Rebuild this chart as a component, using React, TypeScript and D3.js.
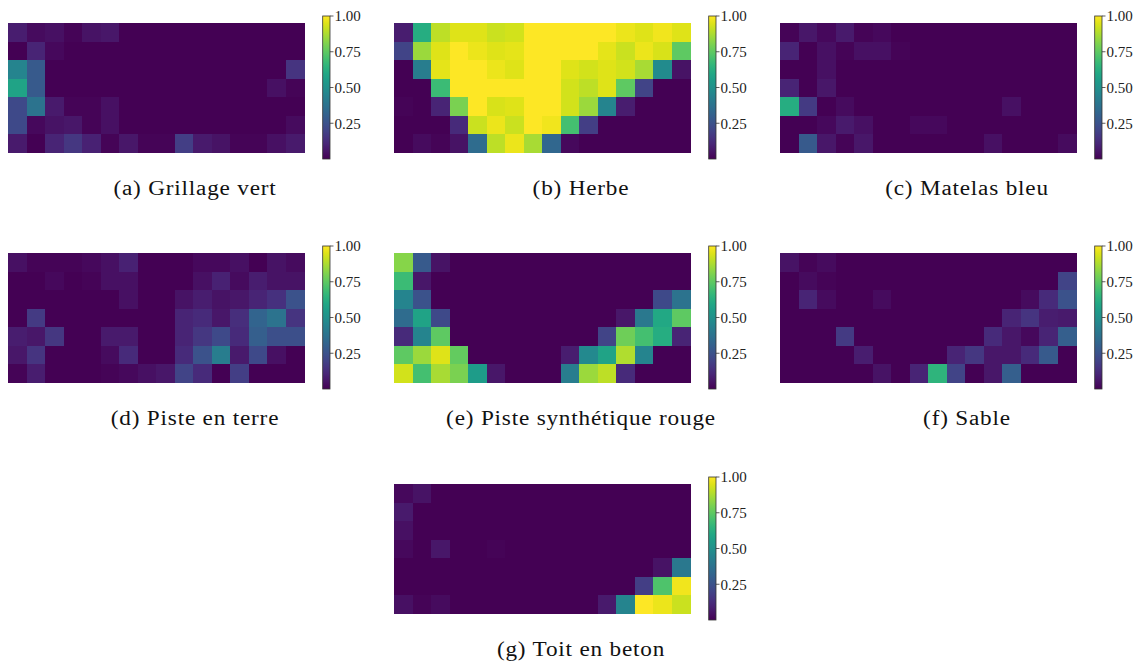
import React from "react";
import * as d3 from "d3";

const nCols = 16;
const nRows = 7;

const grillageVert = [
  [0.08, 0.03, 0.04, 0.01, 0.05, 0.06, 0, 0, 0, 0, 0, 0, 0, 0, 0, 0],
  [0.0, 0.1, 0.02, 0, 0, 0, 0, 0, 0, 0, 0, 0, 0, 0, 0, 0],
  [0.45, 0.28, 0, 0, 0, 0, 0, 0, 0, 0, 0, 0, 0, 0, 0, 0.15],
  [0.58, 0.28, 0, 0, 0, 0, 0, 0, 0, 0, 0, 0, 0, 0, 0.04, 0.01],
  [0.22, 0.38, 0.07, 0.01, 0.01, 0.04, 0, 0, 0, 0, 0, 0, 0, 0, 0, 0],
  [0.22, 0.02, 0.05, 0.06, 0.01, 0.04, 0, 0, 0, 0, 0, 0, 0, 0, 0, 0.03],
  [0.07, 0.0, 0.1, 0.16, 0.09, 0.01, 0.06, 0.01, 0.01, 0.18, 0.07, 0.05, 0.01, 0.01, 0.04, 0.07],
];

const herbe = [
  [0.08, 0.62, 0.9, 0.95, 0.95, 0.92, 0.93, 1.0, 1.0, 1.0, 1.0, 1.0, 0.97, 0.95, 0.98, 0.95],
  [0.2, 0.85, 0.95, 1.0, 0.97, 0.95, 0.96, 1.0, 1.0, 1.0, 1.0, 0.96, 0.92, 0.97, 0.94, 0.75],
  [0.0, 0.42, 0.96, 1.0, 1.0, 0.97, 0.95, 1.0, 1.0, 0.95, 0.93, 0.95, 0.93, 0.87, 0.48, 0.05],
  [0.0, 0.0, 0.68, 1.0, 1.0, 1.0, 1.0, 1.0, 1.0, 0.93, 0.9, 0.95, 0.75, 0.2, 0.0, 0.0],
  [0.01, 0.0, 0.1, 0.8, 1.0, 0.94, 0.95, 1.0, 1.0, 0.93, 0.85, 0.45, 0.08, 0.0, 0.0, 0.0],
  [0.0, 0.0, 0.0, 0.12, 0.92, 0.97, 0.92, 1.0, 0.98, 0.7, 0.18, 0.0, 0.0, 0.0, 0.0, 0.0],
  [0.0, 0.03, 0.01, 0.05, 0.35, 0.9, 0.97, 0.87, 0.33, 0.02, 0.0, 0.0, 0.0, 0.0, 0.0, 0.0],
];

const matelasBleu = [
  [0.01, 0.06, 0.02, 0.07, 0.01, 0.02, 0, 0, 0, 0, 0, 0, 0, 0, 0, 0],
  [0.1, 0.0, 0.04, 0.01, 0.04, 0.04, 0.01, 0, 0, 0, 0, 0, 0, 0, 0, 0],
  [0.0, 0.0, 0.04, 0, 0, 0, 0, 0, 0, 0, 0, 0, 0, 0, 0, 0],
  [0.1, 0.0, 0.06, 0, 0, 0, 0, 0, 0, 0, 0, 0, 0, 0, 0, 0],
  [0.62, 0.17, 0.0, 0.03, 0, 0, 0, 0, 0, 0, 0, 0, 0.04, 0, 0, 0],
  [0.0, 0.0, 0.02, 0.07, 0.04, 0, 0, 0.02, 0.02, 0, 0, 0, 0, 0, 0, 0],
  [0.0, 0.28, 0.06, 0.01, 0.06, 0, 0, 0, 0, 0, 0, 0.04, 0, 0, 0, 0.03],
];

const pisteEnTerre = [
  [0.04, 0.01, 0.01, 0.01, 0.02, 0.04, 0.09, 0, 0, 0, 0.02, 0.02, 0.04, 0.0, 0.05, 0.03],
  [0, 0, 0.02, 0, 0.01, 0.04, 0.04, 0, 0, 0, 0.04, 0.09, 0.03, 0.08, 0.05, 0.05],
  [0, 0, 0, 0, 0, 0, 0.04, 0, 0, 0.05, 0.08, 0.05, 0.06, 0.1, 0.14, 0.25],
  [0, 0.17, 0, 0, 0, 0, 0, 0, 0, 0.1, 0.12, 0.06, 0.13, 0.32, 0.38, 0.15],
  [0.08, 0.06, 0.16, 0, 0, 0.07, 0.07, 0, 0, 0.1, 0.16, 0.22, 0.12, 0.3, 0.24, 0.24],
  [0.06, 0.15, 0, 0, 0, 0.03, 0.12, 0, 0, 0.12, 0.25, 0.42, 0.07, 0.22, 0.04, 0],
  [0.01, 0.08, 0, 0, 0, 0.01, 0.02, 0.04, 0.06, 0.2, 0.12, 0.0, 0.18, 0, 0, 0],
];

const pisteSynthetique = [
  [0.82, 0.28, 0.05, 0, 0, 0, 0, 0, 0, 0, 0, 0, 0, 0, 0, 0],
  [0.68, 0.06, 0, 0, 0, 0, 0, 0, 0, 0, 0, 0, 0, 0, 0, 0],
  [0.45, 0.25, 0, 0, 0, 0, 0, 0, 0, 0, 0, 0, 0, 0, 0.22, 0.38],
  [0.35, 0.58, 0.22, 0, 0, 0, 0, 0, 0, 0, 0, 0, 0.06, 0.4, 0.6, 0.75],
  [0.12, 0.45, 0.75, 0, 0, 0, 0, 0, 0, 0, 0, 0.2, 0.78, 0.7, 0.62, 0.1],
  [0.75, 0.85, 0.95, 0.76, 0, 0, 0, 0, 0, 0.08, 0.47, 0.58, 0.88, 0.45, 0, 0],
  [0.93, 0.7, 0.87, 0.8, 0.55, 0.06, 0, 0, 0, 0.42, 0.85, 0.9, 0.12, 0, 0, 0],
];

const sable = [
  [0.05, 0.01, 0.03, 0, 0, 0, 0, 0, 0, 0, 0, 0, 0, 0, 0, 0],
  [0, 0.03, 0.01, 0, 0, 0, 0, 0, 0, 0, 0, 0, 0, 0, 0, 0.2],
  [0, 0.1, 0.03, 0, 0, 0.03, 0, 0, 0, 0, 0, 0, 0, 0.03, 0.12, 0.25],
  [0, 0, 0, 0, 0, 0, 0, 0, 0, 0, 0, 0, 0.1, 0.15, 0.08, 0.07],
  [0, 0, 0, 0.17, 0, 0, 0, 0, 0, 0, 0, 0.12, 0.06, 0.02, 0.1, 0.3],
  [0, 0, 0, 0, 0.08, 0, 0, 0, 0, 0.1, 0.16, 0.06, 0.06, 0.12, 0.28, 0],
  [0, 0, 0, 0, 0, 0.05, 0, 0.1, 0.65, 0.2, 0, 0.06, 0.3, 0, 0, 0],
];

const toitEnBeton = [
  [0.02, 0.05, 0, 0, 0, 0, 0, 0, 0, 0, 0, 0, 0, 0, 0, 0],
  [0.07, 0, 0, 0, 0, 0, 0, 0, 0, 0, 0, 0, 0, 0, 0, 0],
  [0.04, 0, 0, 0, 0, 0, 0, 0, 0, 0, 0, 0, 0, 0, 0, 0],
  [0.02, 0, 0.06, 0, 0, 0.01, 0, 0, 0, 0, 0, 0, 0, 0, 0, 0],
  [0, 0, 0, 0, 0, 0, 0, 0, 0, 0, 0, 0, 0, 0, 0.05, 0.4],
  [0, 0, 0, 0, 0, 0, 0, 0, 0, 0, 0, 0, 0, 0.18, 0.72, 0.98],
  [0.04, 0.01, 0.03, 0, 0, 0, 0, 0, 0, 0, 0, 0.07, 0.45, 1.0, 0.97, 0.92],
];

const captions = [
  "(a) Grillage vert",
  "(b) Herbe",
  "(c) Matelas bleu",
  "(d) Piste en terre",
  "(e) Piste synthétique rouge",
  "(f) Sable",
  "(g) Toit en beton",
];
const panelData = [grillageVert, herbe, matelasBleu, pisteEnTerre, pisteSynthetique, sable, toitEnBeton];
const colorbarTicks = [0.25, 0.5, 0.75, 1.0];

const panelLefts = [8, 394, 780, 8, 394, 780, 394];
const panelTops = [23, 23, 23, 253, 253, 253, 484];

const HM_W = 296.5;
const HM_H = 130;

const color = d3.scaleSequential(d3.interpolateViridis).domain([0, 1]);

function Panel({ data, caption, left, top, idx }: any) {
  const x = d3.scaleBand<number>().domain(d3.range(nCols)).range([left, left + HM_W]);
  const y = d3.scaleBand<number>().domain(d3.range(nRows)).range([top, top + HM_H]);
  const cbLeft = left + 314.7;
  const cbW = 7.3;
  const cbTop = top - 7;
  const cbH = 143;
  const cy = d3.scaleLinear().domain([0, 1]).range([cbTop + cbH, cbTop]);
  const gid = `vir${idx}`;
  const stops = d3.range(0, 1.0001, 0.05);
  const cx = left + 187;
  const cyText = top + 172;
  const sx = 1.16;
  return (
    <g>
      {data.map((row: number[], r: number) =>
        row.map((v: number, c: number) => (
          <rect
            key={`${r}-${c}`}
            x={x(c)}
            y={y(r)}
            width={x.bandwidth() + 0.4}
            height={y.bandwidth() + 0.4}
            fill={color(v)}
            shapeRendering="crispEdges"
          />
        ))
      )}
      <defs>
        <linearGradient id={gid} x1="0" y1="1" x2="0" y2="0">
          {stops.map((s) => (
            <stop key={s} offset={s} stopColor={color(s)} />
          ))}
        </linearGradient>
      </defs>
      <rect x={cbLeft} y={cbTop} width={cbW} height={cbH} fill={`url(#${gid})`} stroke="#333" strokeWidth={0.8} />
      {colorbarTicks.map((t) => (
        <g key={t}>
          <line x1={cbLeft + cbW} x2={cbLeft + cbW + 3.5} y1={cy(t)} y2={cy(t)} stroke="#333" strokeWidth={0.8} />
          <text
            x={cbLeft + cbW + 4.5}
            y={cy(t)}
            dy="0.35em"
            fontFamily="'Liberation Serif', serif"
            fontSize={15}
            fill="#222"
          >
            {d3.format(".2f")(t)}
          </text>
        </g>
      ))}
      <text
        transform={`translate(${cx},${cyText}) scale(${sx},1)`}
        textAnchor="middle"
        fontFamily="'Liberation Serif', serif"
        fontSize={20}
        letterSpacing={0.7}
        fill="#111"
      >
        {caption}
      </text>
    </g>
  );
}

export default function App() {
  return (
    <svg
      width={1135}
      height={663}
      style={{ position: "absolute", left: 0, top: 0, background: "#fff" }}
    >
      <rect x={0} y={0} width={1135} height={663} fill="#fff" />
      {panelData.map((d, i) => (
        <Panel key={i} idx={i} data={d} caption={captions[i]} left={panelLefts[i]} top={panelTops[i]} />
      ))}
    </svg>
  );
}
